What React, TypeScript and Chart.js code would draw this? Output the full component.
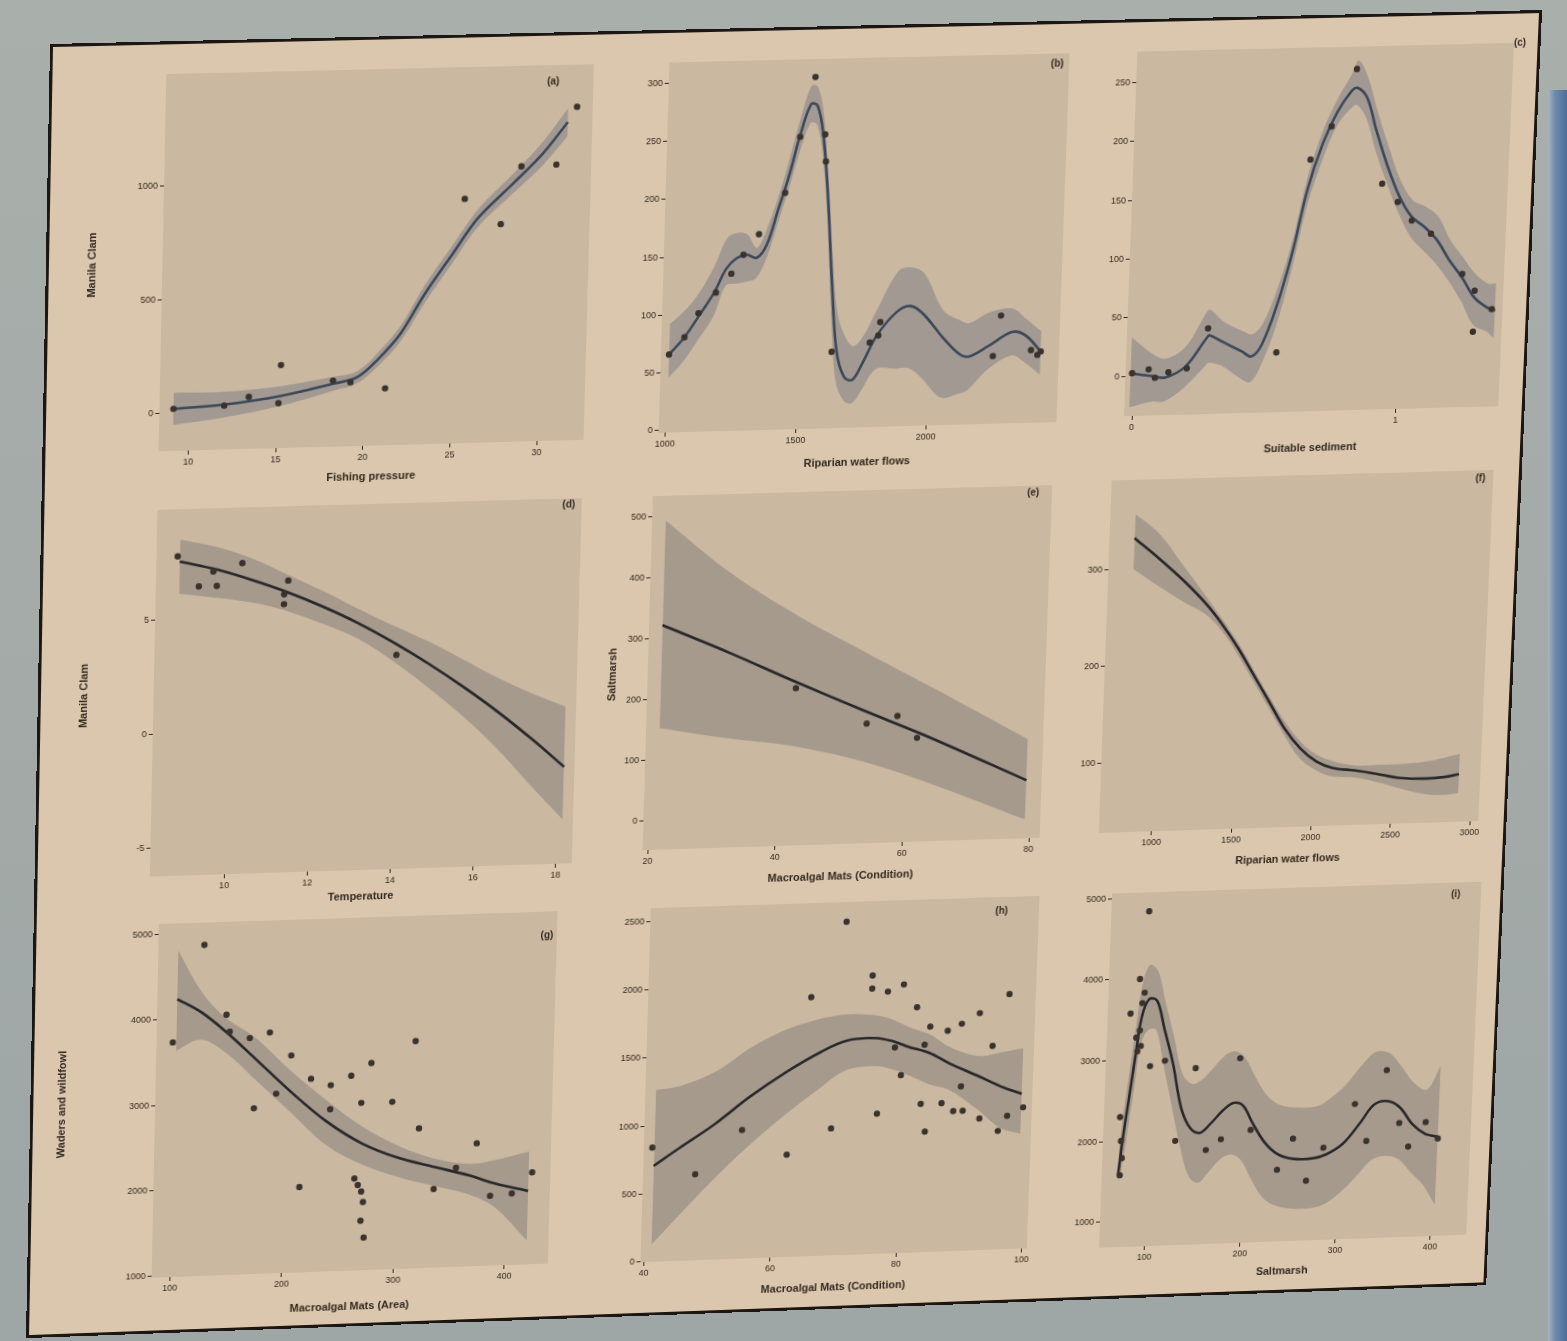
import React, { useEffect, useRef } from "react";
import { Chart, registerables } from "chart.js";
Chart.register(...registerables);

// ---------------- DATA ----------------
// (a) Manila Clam vs Fishing pressure
const aFitX = [9.1, 12.0, 15.2, 18.2, 19.6, 20.8, 22.0, 23.3, 24.9, 26.3, 28.3, 29.9, 31.3];
const aFitY = [19, 32, 63, 111, 138, 218, 324, 492, 673, 827, 978, 1102, 1239];
const aLower = [-52, -25, 19, 80, 111, 187, 289, 452, 633, 787, 934, 1049, 1177];
const aUpper = [90, 89, 107, 142, 165, 249, 359, 532, 713, 867, 1022, 1155, 1301];
const aPtsX = [9.1, 12.0, 13.4, 15.2, 15.1, 18.2, 19.2, 21.2, 25.5, 27.6, 28.7, 30.7, 31.8];
const aPtsY = [19, 27, 63, 200, 32, 125, 116, 85, 912, 797, 1049, 1053, 1305];
const aXTicks = [10, 15, 20, 25, 30];
const aYTicks = [0, 500, 1000];

// (b) Riparian water flows
const bFitX = [1006, 1063, 1114, 1171, 1215, 1253, 1292, 1330, 1368, 1406, 1444, 1482, 1520, 1545, 1570, 1596, 1621, 1646, 1678, 1710, 1748, 1799, 1875, 1926, 1976, 2052, 2116, 2153, 2229, 2318, 2369, 2432];
const bFitY = [65.8, 80.4, 98.0, 118.4, 138.9, 147.7, 150.6, 147.7, 159.4, 188.6, 217.8, 252.9, 279.2, 277.7, 252.9, 197.4, 124.3, 65.8, 42.4, 39.5, 54.1, 77.5, 98.0, 102.4, 95.1, 74.6, 60.0, 57.1, 65.8, 77.5, 74.6, 60.0];
const bUpper = [92.1, 103.8, 118.4, 141.8, 165.2, 169.6, 168.1, 156.4, 174.0, 200.3, 232.4, 267.5, 295.3, 293.8, 270.4, 214.9, 147.7, 98.0, 77.5, 68.8, 77.5, 100.9, 133.1, 136.0, 130.1, 98.0, 89.2, 86.3, 95.1, 98.0, 89.2, 77.5];
const bLower = [45.4, 60.0, 77.5, 98.0, 124.3, 125.7, 127.2, 130.1, 147.7, 176.9, 206.1, 238.3, 263.1, 261.7, 235.4, 176.9, 98.0, 39.5, 22.0, 19.1, 30.8, 48.3, 48.3, 48.3, 39.5, 22.0, 24.9, 27.8, 45.4, 57.1, 51.2, 39.5];
const bPtsX = [1006, 1063, 1114, 1178, 1235, 1279, 1336, 1431, 1482, 1533, 1577, 1583, 1628, 1773, 1805, 1811, 2274, 2248, 2394, 2432, 2419];
const bPtsY = [65.8, 80.4, 100.9, 118.4, 134.5, 150.6, 168.1, 203.2, 251.4, 302.6, 252.9, 229.5, 64.4, 71.7, 77.5, 89.2, 92.1, 57.1, 61.4, 60.0, 57.1];
const bXTicks = [1000, 1500, 2000];
const bYTicks = [0, 50, 100, 150, 200, 250, 300];

// (c) Suitable sediment
const cFitX = [-0.011, 0.070, 0.120, 0.195, 0.270, 0.282, 0.332, 0.407, 0.444, 0.482, 0.532, 0.582, 0.632, 0.682, 0.732, 0.782, 0.806, 0.844, 0.881, 0.931, 0.981, 1.031, 1.081, 1.131, 1.181, 1.231, 1.281, 1.331, 1.362];
const cFitY = [2.6, -0.3, -1.8, 7.0, 30.4, 33.3, 27.5, 18.7, 14.3, 24.5, 56.7, 100.6, 156.1, 194.1, 220.4, 238.0, 240.9, 232.1, 205.8, 173.7, 147.4, 129.8, 121.0, 109.3, 91.8, 77.2, 59.6, 50.9, 48.0];
const cUpper = [33.3, 18.7, 14.3, 24.5, 53.8, 55.2, 45.0, 36.2, 33.3, 42.1, 71.3, 112.3, 167.8, 205.8, 232.1, 252.6, 264.3, 249.7, 223.4, 191.2, 162.0, 144.4, 138.6, 129.8, 109.3, 94.7, 80.1, 71.3, 71.3];
const cLower = [-26.6, -22.2, -22.2, -10.5, 7.0, 9.9, 7.0, -4.7, -7.6, 7.0, 39.2, 86.0, 141.5, 179.5, 208.8, 223.4, 226.3, 214.6, 188.3, 159.0, 132.7, 112.3, 100.6, 88.9, 74.2, 56.7, 36.2, 30.4, 24.5];
const cPtsX = [-0.005, 0.057, 0.082, 0.132, 0.201, 0.276, 0.538, 0.638, 0.713, 0.800, 0.913, 0.975, 1.031, 1.106, 1.231, 1.281, 1.281, 1.349];
const cPtsY = [2.6, 5.5, -1.8, 2.6, 5.5, 39.2, 17.2, 181.0, 208.8, 257.0, 159.0, 143.0, 126.9, 115.2, 80.1, 65.5, 30.4, 49.4];
const cXTicks = [0, 1];
const cYTicks = [0, 50, 100, 150, 200, 250];

// (d) Manila Clam vs Temperature
const dFitX = [8.77, 9.67, 10.52, 11.38, 12.23, 13.09, 13.94, 14.80, 15.65, 16.51, 17.36, 18.14];
const dFitY = [7.52, 7.12, 6.62, 6.04, 5.37, 4.60, 3.72, 2.74, 1.68, 0.52, -0.74, -1.98];
const dUpper = [8.47, 8.10, 7.55, 6.80, 6.05, 5.22, 4.45, 3.70, 2.86, 2.00, 1.26, 0.67];
const dLower = [6.12, 5.90, 5.64, 5.22, 4.62, 3.92, 2.90, 1.70, 0.40, -1.10, -2.80, -4.30];
const dPtsX = [8.72, 9.24, 9.67, 10.27, 11.29, 11.38, 11.29, 14.02, 9.58];
const dPtsY = [7.75, 6.41, 6.41, 7.38, 5.96, 6.56, 5.53, 3.17, 7.05];
const dXTicks = [10, 12, 14, 16, 18];
const dYTicks = [-5, 0, 5];

// (e) Saltmarsh vs Macroalgal Mats (Condition)
const eFitX = [21.3, 31.8, 42.5, 53.2, 64.0, 79.3];
const eFitY = [322, 274, 222, 172, 123, 48];
const eUpper = [494, 404, 331, 268, 206, 116];
const eLower = [153, 133, 116, 88, 48, -17];
const ePtsX = [42.5, 53.8, 58.6, 61.8];
const ePtsY = [212, 150, 161, 124];
const eXTicks = [20, 40, 60, 80];
const eYTicks = [0, 100, 200, 300, 400, 500];

// (f) vs Riparian water flows
const fFitX = [824, 979, 1145, 1291, 1394, 1498, 1602, 1706, 1809, 1913, 2017, 2121, 2266, 2432, 2536, 2702, 2826, 2919];
const fFitY = [331.9, 310.6, 285.9, 261.1, 239.8, 215.1, 186.7, 158.4, 130.1, 108.9, 94.7, 87.6, 84.1, 78.8, 75.2, 73.5, 74.5, 77.0];
const fUpper = [356.7, 335.4, 300.0, 268.2, 245.1, 220.4, 192.0, 163.7, 137.2, 115.9, 101.8, 94.7, 89.4, 89.4, 89.4, 91.2, 94.7, 98.2];
const fLower = [300.0, 282.3, 264.6, 250.5, 232.8, 208.0, 179.7, 151.3, 123.0, 98.2, 85.8, 78.8, 77.0, 69.9, 64.6, 57.5, 55.8, 57.5];
const fPtsX: number[] = [];
const fPtsY: number[] = [];
const fXTicks = [1000, 1500, 2000, 2500, 3000];
const fYTicks = [100, 200, 300];

// (g) Waders and wildfowl vs Macroalgal Mats (Area)
const gFitX = [101.4, 122.8, 145.5, 171.8, 204.2, 236.9, 269.6, 302.3, 334.6, 367.3, 390.1, 419.6];
const gFitY = [4238, 4077, 3836, 3514, 3112, 2747, 2470, 2288, 2168, 2048, 1944, 1845];
const gUpper = [4801, 4317, 3994, 3754, 3352, 2992, 2669, 2429, 2267, 2188, 2226, 2308];
const gLower = [3634, 3754, 3592, 3273, 2872, 2471, 2226, 2064, 1944, 1824, 1663, 1261];
const gPtsX = [124.5, 98.2, 145.5, 148.7, 166.8, 184.6, 171.8, 204.2, 191.4, 222.3, 240.1, 240.1, 258.2, 267.8, 276.0, 295.5, 315.1, 320.1, 372.3, 214.1, 263.2, 266.4, 269.6, 271.4, 269.6, 272.8, 354.2, 334.6, 385.5, 405.0, 422.8];
const gPtsY = [4859, 3733, 4035, 3837, 3754, 3812, 2930, 3534, 3092, 3253, 3170, 2888, 3273, 2950, 3414, 2950, 3654, 2627, 2429, 1985, 2064, 1985, 1907, 1783, 1563, 1364, 2147, 1907, 1803, 1824, 2064];
const gXTicks = [100, 200, 300, 400];
const gYTicks = [1000, 2000, 3000, 4000, 5000];

// (h) vs Macroalgal Mats (Condition)
const hFitX = [41.1, 45.0, 50.5, 56.0, 61.5, 67.1, 71.0, 75.4, 78.2, 80.9, 84.2, 87.5, 92.0, 95.8, 99.1];
const hFitY = [704, 827, 995, 1191, 1360, 1505, 1579, 1592, 1566, 1518, 1469, 1385, 1288, 1202, 1143];
const hUpper = [1263, 1288, 1385, 1554, 1676, 1750, 1773, 1760, 1724, 1663, 1605, 1505, 1434, 1457, 1482];
const hLower = [122, 316, 584, 827, 1043, 1240, 1360, 1385, 1360, 1311, 1240, 1191, 1043, 898, 849];
const hPtsX = [40.8, 47.7, 54.9, 62.1, 65.2, 69.0, 70.4, 74.8, 74.8, 77.3, 79.8, 76.2, 78.7, 79.8, 82.0, 83.1, 83.9, 83.4, 84.2, 87.0, 86.4, 88.3, 89.2, 89.8, 89.4, 92.0, 92.5, 94.2, 95.5, 96.9, 96.6, 99.4];
const hPtsY = [839, 632, 947, 753, 1908, 936, 2454, 2053, 1957, 1931, 1980, 1033, 1518, 1311, 1809, 1094, 888, 1531, 1663, 1628, 1094, 1033, 1676, 1033, 1214, 1750, 972, 1505, 875, 984, 1883, 1043];
const hXTicks = [40, 60, 80, 100];
const hYTicks = [0, 500, 1000, 1500, 2000, 2500];

// (i) vs Saltmarsh
const iFitX = [69.2, 72.6, 78.0, 83.0, 88.0, 95.0, 103.5, 112.3, 122.4, 132.8, 143.2, 153.2, 163.6, 177.1, 187.5, 197.9, 207.9, 221.8, 235.7, 252.7, 273.1, 287.0, 304.0, 321.3, 334.8, 348.7, 362.2, 376.1, 390.0, 403.5];
const iFitY = [1575, 2000, 2553, 3066, 3531, 3746, 3724, 3364, 2939, 2382, 2127, 2066, 2171, 2342, 2425, 2382, 2171, 1917, 1768, 1702, 1702, 1746, 1873, 2127, 2342, 2382, 2298, 2083, 1956, 1917];
const iUpper = [1917, 2342, 2939, 3491, 3960, 4171, 4088, 3702, 3276, 2807, 2680, 2724, 2851, 3022, 3066, 2978, 2768, 2509, 2382, 2342, 2342, 2425, 2596, 2851, 3000, 2978, 2807, 2596, 2509, 2807];
const iLower = [1487, 1658, 2171, 2680, 3193, 3364, 3364, 2939, 2425, 1917, 1531, 1447, 1575, 1746, 1785, 1702, 1487, 1232, 1127, 1083, 1083, 1127, 1276, 1487, 1658, 1702, 1658, 1487, 1320, 1061];
const iPtsX = [91.5, 84.6, 90.0, 88.0, 76.1, 86.5, 83.0, 88.0, 84.6, 98.5, 113.9, 146.3, 192.5, 69.2, 71.1, 72.6, 71.1, 127.8, 160.2, 175.6, 206.4, 235.7, 251.2, 266.6, 283.5, 314.8, 328.3, 346.8, 362.2, 372.6, 390.0, 403.5];
const iPtsY = [4833, 4000, 3829, 3702, 3575, 3364, 3276, 3171, 3105, 2917, 2978, 2873, 2978, 2298, 2000, 1785, 1575, 1978, 1851, 1978, 2083, 1575, 1956, 1425, 1829, 2360, 1895, 2768, 2105, 1807, 2105, 1895];
const iXTicks = [100, 200, 300, 400];
const iYTicks = [1000, 2000, 3000, 4000, 5000];

// ---------------- STYLE / LAYOUT ----------------
const PANEL_W = 1488;
const PANEL_H = 1290;
// photo corners of the framed panel: TL, TR, BR, BL
const QUAD: [number, number][] = [[50, 44], [1542, 10], [1486, 1285], [26, 1338]];
const PAD_T = 12;
const PAD_R = 22;
const TEXT = "#33291f";
const PLOT_BG = "#cab8a0";
const PANEL_BG = "#dbc7ad";
const FONT = "'Liberation Sans', Arial, sans-serif";

type Cfg = {
  letter: string;
  fitX: number[]; fitY: number[]; lo: number[]; hi: number[];
  px: number[]; py: number[];
  xTicks: number[]; yTicks: number[];
  xMin: number; xMax: number; yMin: number; yMax: number;
  xTitle: string; yTitle: string;
  u: number; v: number; w: number; h: number;
  yAxisW: number; xAxisH: number;
  line: string; band: string;
  ldx: number; ldy: number;
};

const BLUE_LINE = "#3c485a";
const DARK_LINE = "#28272a";
const BLUE_BAND = "rgba(92,102,122,0.36)";
const GRAY_BAND = "rgba(98,98,104,0.34)";

const PANELS: Cfg[] = [
  { letter: "(a)", fitX: aFitX, fitY: aFitY, lo: aLower, hi: aUpper, px: aPtsX, py: aPtsY, xTicks: aXTicks, yTicks: aYTicks,
    xMin: 8.3, xMax: 32.7, yMin: -167, yMax: 1490, xTitle: "Fishing pressure", yTitle: "Manila Clam",
    u: 112, v: 29, w: 423, h: 371, yAxisW: 80, xAxisH: 42, line: BLUE_LINE, band: BLUE_BAND, ldx: 40, ldy: 16 },
  { letter: "(b)", fitX: bFitX, fitY: bFitY, lo: bLower, hi: bUpper, px: bPtsX, py: bPtsY, xTicks: bXTicks, yTicks: bYTicks,
    xMin: 975, xMax: 2502, yMin: -2, yMax: 318, xTitle: "Riparian water flows", yTitle: "",
    u: 610, v: 29, w: 400, h: 366, yAxisW: 42, xAxisH: 46, line: BLUE_LINE, band: BLUE_BAND, ldx: 12, ldy: 10 },
  { letter: "(c)", fitX: cFitX, fitY: cFitY, lo: cLower, hi: cUpper, px: cPtsX, py: cPtsY, xTicks: cXTicks, yTicks: cYTicks,
    xMin: -0.03, xMax: 1.39, yMin: -34, yMax: 276, xTitle: "Suitable sediment", yTitle: "",
    u: 1078, v: 29, w: 380, h: 362, yAxisW: 42, xAxisH: 48, line: BLUE_LINE, band: BLUE_BAND, ldx: -6, ldy: 0 },
  { letter: "(d)", fitX: dFitX, fitY: dFitY, lo: dLower, hi: dUpper, px: dPtsX, py: dPtsY, xTicks: dXTicks, yTicks: dYTicks,
    xMin: 8.21, xMax: 18.39, yMin: -6.25, yMax: 9.8, xTitle: "Temperature", yTitle: "Manila Clam",
    u: 112, v: 458, w: 423, h: 366, yAxisW: 80, xAxisH: 38, line: DARK_LINE, band: GRAY_BAND, ldx: 13, ldy: 6 },
  { letter: "(e)", fitX: eFitX, fitY: eFitY, lo: eLower, hi: eUpper, px: ePtsX, py: ePtsY, xTicks: eXTicks, yTicks: eYTicks,
    xMin: 19.2, xMax: 81.7, yMin: -48, yMax: 534, xTitle: "Macroalgal Mats (Condition)", yTitle: "Saltmarsh",
    u: 606, v: 458, w: 402, h: 355, yAxisW: 46, xAxisH: 44, line: DARK_LINE, band: GRAY_BAND, ldx: 19, ldy: 7 },
  { letter: "(f)", fitX: fFitX, fitY: fFitY, lo: fLower, hi: fUpper, px: fPtsX, py: fPtsY, xTicks: fXTicks, yTicks: fYTicks,
    xMin: 668, xMax: 3054, yMin: 27.4, yMax: 392, xTitle: "Riparian water flows", yTitle: "",
    u: 1068, v: 455, w: 388, h: 355, yAxisW: 46, xAxisH: 44, line: DARK_LINE, band: GRAY_BAND, ldx: 13, ldy: 8 },
  { letter: "(g)", fitX: gFitX, fitY: gFitY, lo: gLower, hi: gUpper, px: gPtsX, py: gPtsY, xTicks: gXTicks, yTicks: gYTicks,
    xMin: 83.6, xMax: 439.2, yMin: 979, yMax: 5120, xTitle: "Macroalgal Mats (Area)", yTitle: "Waders and wildfowl",
    u: 122, v: 872, w: 400, h: 358, yAxisW: 104, xAxisH: 48, line: DARK_LINE, band: GRAY_BAND, ldx: 10, ldy: 24 },
  { letter: "(h)", fitX: hFitX, fitY: hFitY, lo: hLower, hi: hUpper, px: hPtsX, py: hPtsY, xTicks: hXTicks, yTicks: hYTicks,
    xMin: 39.45, xMax: 100.8, yMin: -5, yMax: 2599, xTitle: "Macroalgal Mats (Condition)", yTitle: "",
    u: 616, v: 872, w: 394, h: 360, yAxisW: 48, xAxisH: 44, line: DARK_LINE, band: GRAY_BAND, ldx: 38, ldy: 14 },
  { letter: "(i)", fitX: iFitX, fitY: iFitY, lo: iLower, hi: iUpper, px: iPtsX, py: iPtsY, xTicks: iXTicks, yTicks: iYTicks,
    xMin: 52.2, xMax: 437.8, yMin: 680, yMax: 5066, xTitle: "Saltmarsh", yTitle: "",
    u: 1084, v: 872, w: 378, h: 362, yAxisW: 48, xAxisH: 42, line: DARK_LINE, band: GRAY_BAND, ldx: 26, ldy: 12 },
];

function homography(W: number, H: number, q: [number, number][]) {
  const [[x0, y0], [x1, y1], [x2, y2], [x3, y3]] = q;
  const dx1 = x1 - x2, dx2 = x3 - x2, dx3 = x0 - x1 + x2 - x3;
  const dy1 = y1 - y2, dy2 = y3 - y2, dy3 = y0 - y1 + y2 - y3;
  const den = dx1 * dy2 - dy1 * dx2;
  const g = (dx3 * dy2 - dy3 * dx2) / den;
  const h = (dx1 * dy3 - dy1 * dx3) / den;
  const a = x1 - x0 + g * x1, b = x3 - x0 + h * x3, c = x0;
  const d = y1 - y0 + g * y1, e = y3 - y0 + h * y3, f = y0;
  return `matrix3d(${a / W},${d / W},0,${g / W},${b / H},${e / H},0,${h / H},0,0,1,0,${c},${f},0,1)`;
}

const panelPlugin = {
  id: "panelDeco",
  beforeDraw(chart: any, _args: any, opts: any) {
    const { ctx, chartArea: a } = chart;
    ctx.save();
    ctx.fillStyle = opts.bg;
    ctx.fillRect(a.left, a.top, a.right - a.left, a.bottom - a.top);
    ctx.restore();
  },
  afterDraw(chart: any, _args: any, opts: any) {
    const { ctx, chartArea: a } = chart;
    ctx.save();
    ctx.fillStyle = TEXT;
    ctx.font = `bold 10px ${FONT}`;
    ctx.textAlign = "center";
    ctx.textBaseline = "middle";
    ctx.fillText(opts.letter, a.right - opts.dx, a.top + opts.dy);
    ctx.restore();
  },
};

function PanelChart({ cfg }: { cfg: Cfg }) {
  const ref = useRef<HTMLCanvasElement>(null);
  const width = cfg.yAxisW + cfg.w + PAD_R;
  const height = PAD_T + cfg.h + cfg.xAxisH;
  useEffect(() => {
    const canvas = ref.current;
    if (!canvas) return;
    const pts = (xs: number[], ys: number[]) => xs.map((x, i) => ({ x, y: ys[i] }));
    const tickFont = { family: FONT, size: 9 };
    const titleFont = { family: FONT, size: 11, weight: "bold" as const };
    const chart = new Chart(canvas, {
      type: "line",
      data: {
        datasets: [
          { data: pts(cfg.fitX, cfg.hi), borderWidth: 0, pointRadius: 0, fill: "+1", backgroundColor: cfg.band, tension: 0.35, order: 3 } as any,
          { data: pts(cfg.fitX, cfg.lo), borderWidth: 0, pointRadius: 0, fill: false, tension: 0.35, order: 2 },
          { data: pts(cfg.fitX, cfg.fitY), borderColor: cfg.line, borderWidth: 2.6, pointRadius: 0, fill: false, tension: 0.35, order: 1 },
          { type: "scatter", data: pts(cfg.px, cfg.py), pointRadius: 3.2, pointBackgroundColor: "#3a332d", pointBorderWidth: 0, showLine: false, order: 0 } as any,
        ],
      },
      options: {
        responsive: false,
        animation: false,
        devicePixelRatio: 1,
        layout: { padding: { top: PAD_T, right: PAD_R, left: 0, bottom: 0 } },
        plugins: {
          legend: { display: false },
          tooltip: { enabled: false },
          panelDeco: { bg: PLOT_BG, letter: cfg.letter, dx: cfg.ldx, dy: cfg.ldy },
        } as any,
        scales: {
          x: {
            type: "linear",
            min: cfg.xMin,
            max: cfg.xMax,
            afterBuildTicks: (s: any) => { s.ticks = cfg.xTicks.map((v) => ({ value: v })); },
            afterFit: (s: any) => { s.height = cfg.xAxisH; },
            ticks: { callback: (v: any) => String(v), font: tickFont, color: TEXT, maxRotation: 0, autoSkip: false, padding: 2 },
            grid: { display: true, drawOnChartArea: false, drawTicks: true, tickLength: 4, color: TEXT },
            border: { display: false },
            title: { display: true, text: cfg.xTitle, font: titleFont, color: TEXT, padding: { top: 2, bottom: 4 } },
          },
          y: {
            type: "linear",
            min: cfg.yMin,
            max: cfg.yMax,
            afterBuildTicks: (s: any) => { s.ticks = cfg.yTicks.map((v) => ({ value: v })); },
            afterFit: (s: any) => { s.width = cfg.yAxisW; },
            ticks: { callback: (v: any) => String(v), font: tickFont, color: TEXT, autoSkip: false, padding: 2 },
            grid: { display: true, drawOnChartArea: false, drawTicks: true, tickLength: 4, color: TEXT },
            border: { display: false },
            title: { display: !!cfg.yTitle, text: cfg.yTitle, font: titleFont, color: TEXT, padding: { top: 4, bottom: 2 } },
          },
        },
      } as any,
      plugins: [panelPlugin as any],
    });
    return () => chart.destroy();
  }, [cfg]);
  return (
    <canvas
      ref={ref}
      width={width}
      height={height}
      style={{ position: "absolute", left: cfg.u - cfg.yAxisW, top: cfg.v - PAD_T, width, height }}
    />
  );
}

export default function App() {
  return (
    <div
      style={{
        position: "absolute",
        left: 0,
        top: 0,
        width: 1567,
        height: 1341,
        overflow: "hidden",
        background: "linear-gradient(to bottom, #a9afab 0%, #a2a9a7 60%, #9ea6a6 100%)",
      }}
    >
      <div
        style={{
          position: "absolute",
          left: 1548,
          top: 90,
          width: 19,
          height: 1251,
          background: "linear-gradient(to right, #aab6bf 0%, #6f8cae 35%, #4e6e98 100%)",
        }}
      />
      <div
        style={{
          position: "absolute",
          left: 0,
          top: 0,
          width: PANEL_W,
          height: PANEL_H,
          boxSizing: "border-box",
          border: "3px solid #1c1712",
          background: PANEL_BG,
          transformOrigin: "0 0",
          transform: homography(PANEL_W, PANEL_H, QUAD),
        }}
      >
        {PANELS.map((p) => (
          <PanelChart key={p.letter} cfg={p} />
        ))}
      </div>
    </div>
  );
}
